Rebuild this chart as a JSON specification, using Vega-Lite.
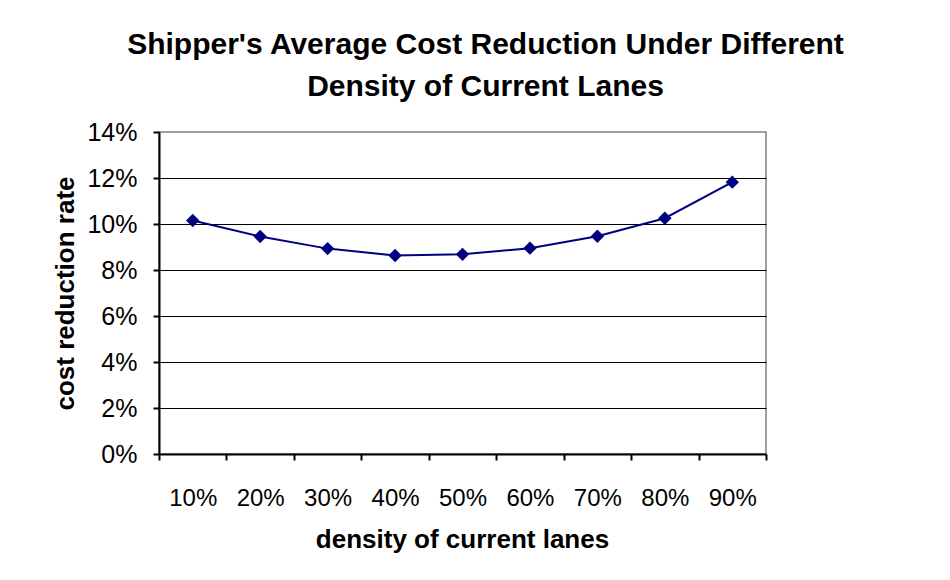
{
  "$schema": "https://vega.github.io/schema/vega-lite/v6.json",
  "width": 607,
  "height": 322,
  "autosize": {"type": "none"},
  "padding": {"left": 159, "top": 132, "right": 184, "bottom": 126},
  "background": "white",
  "title": {
    "text": ["Shipper's Average Cost Reduction Under Different", "Density of Current Lanes"],
    "font": "Liberation Sans",
    "fontSize": 30,
    "fontWeight": "bold",
    "color": "black",
    "anchor": "middle",
    "frame": "group",
    "dx": 23,
    "lineHeight": 42,
    "baseline": "bottom",
    "offset": -12
  },
  "data": {
    "values": [
      {"density": 0.1, "rate": 0.1015},
      {"density": 0.2, "rate": 0.0946},
      {"density": 0.3, "rate": 0.0893},
      {"density": 0.4, "rate": 0.0863},
      {"density": 0.5, "rate": 0.0868},
      {"density": 0.6, "rate": 0.0895},
      {"density": 0.7, "rate": 0.0947},
      {"density": 0.8, "rate": 0.1025},
      {"density": 0.9, "rate": 0.1182}
    ]
  },
  "encoding": {
    "x": {
      "field": "density",
      "type": "quantitative",
      "scale": {"domain": [0.05, 0.95], "nice": false, "zero": false},
      "axis": {
        "values": [0.05, 0.1, 0.15, 0.2, 0.25, 0.3, 0.35, 0.4, 0.45, 0.5, 0.55, 0.6, 0.65, 0.7, 0.75, 0.8, 0.85, 0.9, 0.95],
        "labelExpr": "round(datum.value*100) % 10 == 0 ? format(datum.value, '.0%') : ''",
        "labelOverlap": false,
        "labelBound": false,
        "labelFlush": false,
        "labelFont": "Liberation Sans",
        "labelFontSize": 24,
        "labelColor": "black",
        "labelBaseline": "alphabetic",
        "labelPadding": 45,
        "grid": false,
        "domainColor": "black",
        "domainWidth": 2,
        "tickColor": "black",
        "tickWidth": 2,
        "tickSize": 6,
        "tickOpacity": {"condition": {"test": "round(datum.value*100) % 10 == 5", "value": 1}, "value": 0},
        "title": "density of current lanes",
        "titleFont": "Liberation Sans",
        "titleFontSize": 26,
        "titleFontWeight": "bold",
        "titleColor": "black",
        "titleBaseline": "alphabetic",
        "titleY": 93,
        "titleX": 303
      }
    },
    "y": {
      "field": "rate",
      "type": "quantitative",
      "scale": {"domain": [0, 0.14], "nice": false},
      "axis": {
        "values": [0, 0.02, 0.04, 0.06, 0.08, 0.1, 0.12, 0.14],
        "format": ".0%",
        "labelFont": "Liberation Sans",
        "labelFontSize": 25,
        "labelColor": "black",
        "labelPadding": 16,
        "domainColor": "black",
        "domainWidth": 2,
        "tickColor": "black",
        "tickWidth": 2,
        "tickSize": 6,
        "grid": true,
        "gridColor": "black",
        "gridWidth": 1,
        "gridOpacity": {"condition": {"test": "datum.value >= 0.139", "value": 0}, "value": 1},
        "title": "cost reduction rate",
        "titleFont": "Liberation Sans",
        "titleFontSize": 26,
        "titleFontWeight": "bold",
        "titleColor": "black",
        "titleAngle": 270,
        "titleAlign": "center",
        "titleBaseline": "alphabetic",
        "titleX": -86,
        "titleY": 161
      }
    }
  },
  "layer": [
    {"mark": {"type": "line", "color": "#000080", "strokeWidth": 2}},
    {"mark": {"type": "point", "shape": "diamond", "filled": true, "color": "#000080", "size": 180, "opacity": 1}}
  ],
  "config": {"view": {"stroke": "#808080", "strokeWidth": 1.5}}
}
